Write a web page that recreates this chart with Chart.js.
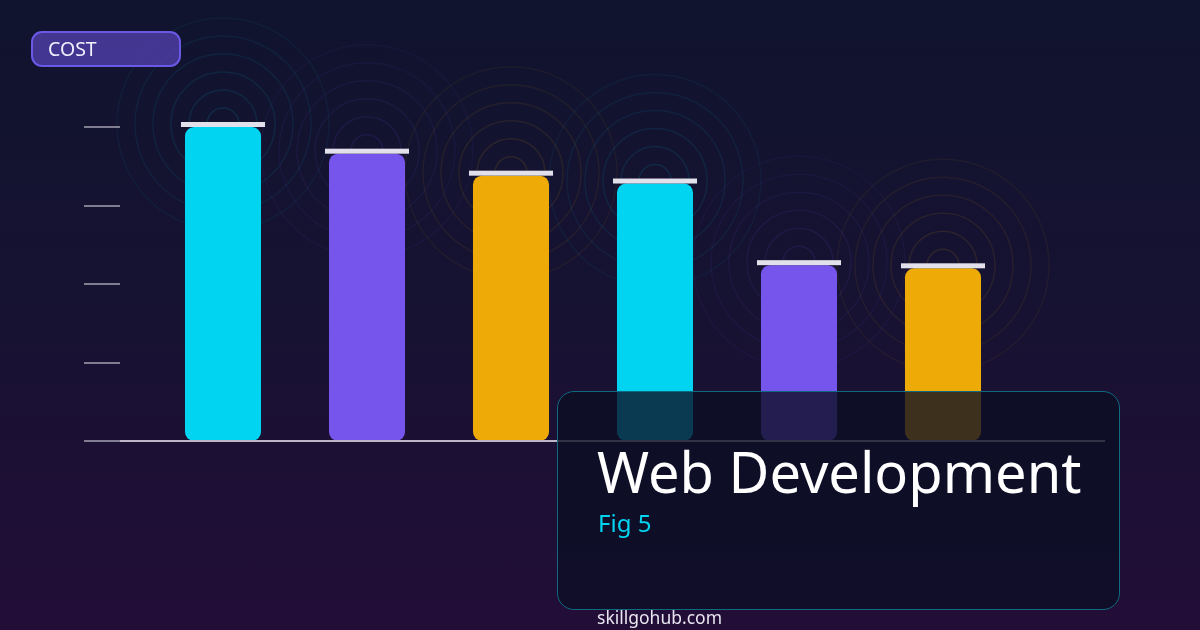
<!DOCTYPE html>
<html lang="en">
<head>
  <meta charset="UTF-8">
  <title>Web Development - Fig 5</title>
  <script src="https://cdn.jsdelivr.net/npm/chart.js"></script>
  <style>
    html, body {
      margin: 0;
      padding: 0;
    }
    body {
      width: 1200px;
      height: 630px;
      overflow: hidden;
      position: relative;
      font-family: "Noto Sans", "Open Sans", sans-serif;
      background: linear-gradient(180deg, #10142e 0%, #171232 50%, #220d37 100%);
    }
    #chart {
      position: absolute;
      left: 0;
      top: 0;
    }
    .pill {
      position: absolute;
      left: 31px;
      top: 31px;
      width: 146px;
      height: 32px;
      border: 2px solid #6a58e6;
      border-radius: 11px;
      background: rgba(80, 62, 170, 0.8);
      color: #f2f0ff;
      font-size: 19.5px;
      line-height: 32px;
    }
    .pill span {
      margin-left: 15px;
    }
    .card {
      position: absolute;
      left: 557px;
      top: 391px;
      width: 561px;
      height: 217px;
      border: 1.5px solid #0f6a80;
      border-radius: 17px;
      background: rgba(12, 14, 36, 0.78);
    }
    .card h1 {
      position: absolute;
      left: 39px;
      top: 45px;
      margin: 0;
      font-weight: 400;
      font-size: 56px;
      line-height: 68px;
      color: #ffffff;
      white-space: nowrap;
    }
    .card .fig {
      position: absolute;
      left: 40px;
      top: 114px;
      font-size: 24px;
      color: #00d4f0;
    }
    .site {
      position: absolute;
      left: 597px;
      top: 605px;
      font-size: 17.5px;
      color: #e8e6f0;
    }
  </style>
</head>
<body>
  <canvas id="chart" width="1200" height="630"></canvas>
  <div class="pill"><span>COST</span></div>
  <div class="card">
    <h1>Web Development</h1>
    <div class="fig">Fig 5</div>
  </div>
  <div class="site">skillgohub.com</div>

  <script>
    const categories = ['A', 'B', 'C', 'D', 'E', 'F'];
    const costValues = [100, 91.5, 84.5, 82, 56, 55];
    const barColors = ['#00d4f0', '#7555ec', '#eeaa06', '#00d4f0', '#7555ec', '#eeaa06'];
    const tickValues = [0, 25, 50, 75, 100];

    function hexToRgba(hex, a) {
      const n = parseInt(hex.slice(1), 16);
      return `rgba(${(n >> 16) & 255}, ${(n >> 8) & 255}, ${n & 255}, ${a})`;
    }

    // rings behind each bar top
    const ringsPlugin = {
      id: 'rings',
      beforeDatasetsDraw(chart) {
        const ctx = chart.ctx;
        const bars = chart.getDatasetMeta(0).data;
        ctx.save();
        bars.forEach((bar, i) => {
          for (let k = 0; k < 6; k++) {
            ctx.beginPath();
            ctx.arc(bar.x, bar.y - 3, 16 + k * 18, 0, Math.PI * 2);
            ctx.strokeStyle = hexToRgba(barColors[i], 0.12 - k * 0.012);
            ctx.lineWidth = 1.5;
            ctx.stroke();
          }
        });
        ctx.restore();
      }
    };

    // tick marks, baseline and caps
    const decorPlugin = {
      id: 'decor',
      afterDatasetsDraw(chart) {
        const ctx = chart.ctx;
        const y = chart.scales.y;
        const area = chart.chartArea;
        ctx.save();
        ctx.strokeStyle = 'rgba(200, 196, 210, 0.6)';
        ctx.lineWidth = 2;
        tickValues.forEach(v => {
          const py = Math.round(y.getPixelForValue(v));
          ctx.beginPath();
          ctx.moveTo(84, py);
          ctx.lineTo(120, py);
          ctx.stroke();
        });
        const base = Math.round(y.getPixelForValue(0));
        ctx.strokeStyle = '#bdb6c8';
        ctx.beginPath();
        ctx.moveTo(120, base);
        ctx.lineTo(area.right + 90, base);
        ctx.stroke();

        ctx.fillStyle = '#e2e0ea';
        chart.getDatasetMeta(0).data.forEach(bar => {
          const w = bar.width + 8;
          ctx.fillRect(bar.x - w / 2, bar.y - 5, w, 5);
        });
        ctx.restore();
      }
    };

    new Chart(document.getElementById('chart'), {
      type: 'bar',
      data: {
        labels: categories,
        datasets: [{
          label: 'Cost',
          data: costValues,
          backgroundColor: barColors,
          borderRadius: 9,
          borderSkipped: false,
          barPercentage: 0.528,
          categoryPercentage: 1
        }]
      },
      options: {
        responsive: false,
        animation: false,
        layout: {
          padding: { top: 127, bottom: 189, left: 151, right: 185 }
        },
        plugins: {
          legend: { display: false },
          tooltip: { enabled: false }
        },
        scales: {
          x: { display: false },
          y: { display: false, min: 0, max: 100 }
        }
      },
      plugins: [ringsPlugin, decorPlugin]
    });
  </script>
</body>
</html>
